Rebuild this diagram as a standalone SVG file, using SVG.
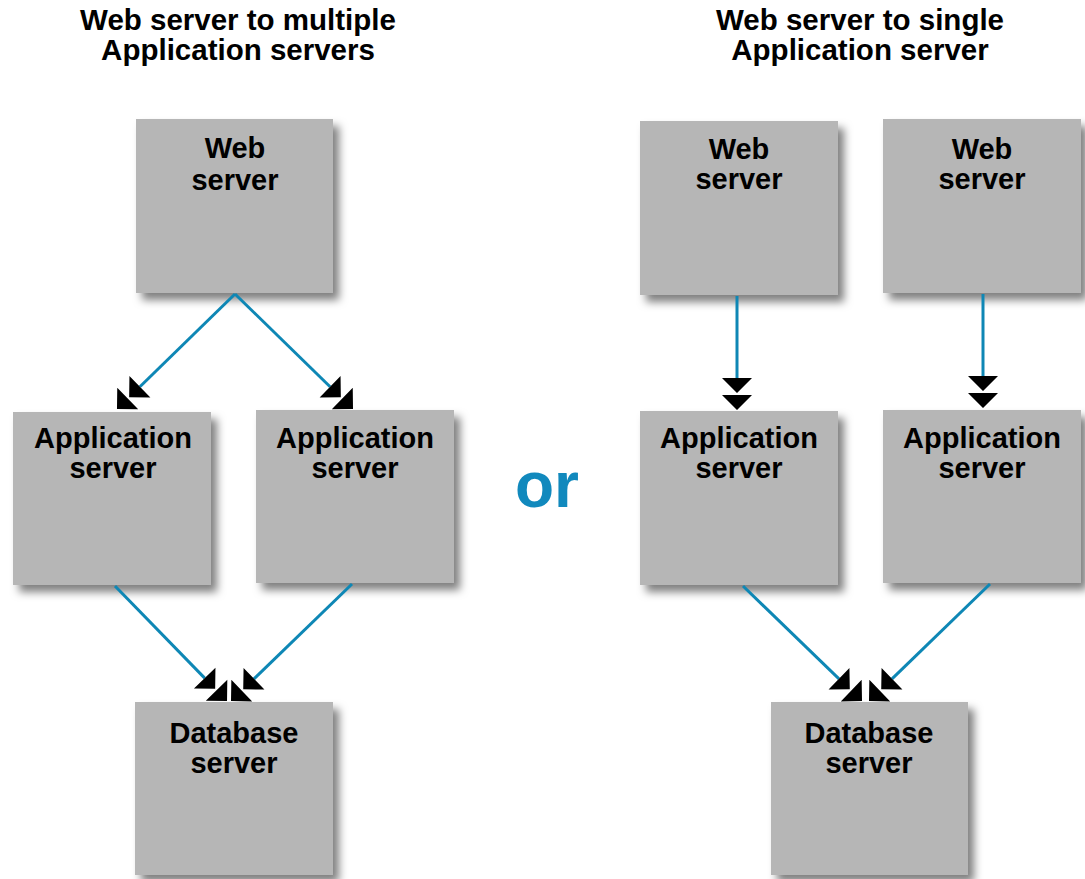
<svg xmlns="http://www.w3.org/2000/svg" width="1085" height="879" viewBox="0 0 1085 879">
  <style>
    .box { fill: #b6b6b6; filter: url(#shadow); }
    .lbl { font-family: "Liberation Sans", Arial, sans-serif; font-weight: bold; font-size: 29px; fill: #000; text-anchor: middle; }
    .title { font-family: "Liberation Sans", Arial, sans-serif; font-weight: bold; font-size: 29.5px; fill: #000; text-anchor: middle; }
    .or { font-family: "Liberation Sans", Arial, sans-serif; font-weight: bold; font-size: 64px; fill: #1189bd; }
    .link { stroke: #0e87b5; stroke-width: 3; fill: none; marker-end: url(#dbl); }
  </style>
  <defs>
    <filter id="shadow" x="-10%" y="-10%" width="130%" height="130%">
      <feDropShadow dx="6" dy="7" stdDeviation="4" flood-color="#000" flood-opacity="0.5"/>
    </filter>
    <!-- double solid arrowhead -->
    <marker id="dbl" markerUnits="userSpaceOnUse" markerWidth="34" markerHeight="32" refX="0" refY="0" viewBox="0 -16 34 32" orient="auto" overflow="visible">
      <path d="M0,-15 L15,0 L0,15 Z M17,-15 L32,0 L17,15 Z" fill="#000"/>
    </marker>
  </defs>

  <rect width="1085" height="879" fill="#fff"/>

  <!-- titles -->
  <text class="title" x="238" y="30">Web server to multiple</text>
  <text class="title" x="238" y="60">Application servers</text>
  <text class="title" x="860" y="30">Web server to single</text>
  <text class="title" x="860" y="60">Application server</text>

  <text class="or" x="515" y="507">or</text>

  <!-- left layout -->
  <g id="web-left">
    <rect class="box" x="136" y="119" width="197" height="174"/>
    <text class="lbl" x="235" y="158">Web</text>
    <text class="lbl" x="235" y="190">server</text>
  </g>
  <g id="app-left-1">
    <rect class="box" x="13" y="412" width="198" height="173"/>
    <text class="lbl" x="113" y="448">Application</text>
    <text class="lbl" x="113" y="478">server</text>
  </g>
  <g id="app-left-2">
    <rect class="box" x="256" y="410" width="198" height="173"/>
    <text class="lbl" x="355" y="448">Application</text>
    <text class="lbl" x="355" y="478">server</text>
  </g>
  <g id="db-left">
    <rect class="box" x="135" y="702" width="198" height="173"/>
    <text class="lbl" x="234" y="743">Database</text>
    <text class="lbl" x="234" y="773">server</text>
  </g>

  <!-- right layout -->
  <g id="web-right-1">
    <rect class="box" x="640" y="121" width="198" height="174"/>
    <text class="lbl" x="739" y="159">Web</text>
    <text class="lbl" x="739" y="189">server</text>
  </g>
  <g id="web-right-2">
    <rect class="box" x="883" y="119" width="198" height="174"/>
    <text class="lbl" x="982" y="159">Web</text>
    <text class="lbl" x="982" y="189">server</text>
  </g>
  <g id="app-right-1">
    <rect class="box" x="640" y="411" width="198" height="174"/>
    <text class="lbl" x="739" y="448">Application</text>
    <text class="lbl" x="739" y="478">server</text>
  </g>
  <g id="app-right-2">
    <rect class="box" x="883" y="410" width="198" height="173"/>
    <text class="lbl" x="982" y="448">Application</text>
    <text class="lbl" x="982" y="478">server</text>
  </g>
  <g id="db-right">
    <rect class="box" x="771" y="702" width="197" height="173"/>
    <text class="lbl" x="869" y="743">Database</text>
    <text class="lbl" x="869" y="773">server</text>
  </g>

  <!-- connectors -->
  <g id="connectors">
    <line class="link" x1="235" y1="294" x2="139.9" y2="386.7"/>
    <line class="link" x1="235" y1="294" x2="330.1" y2="386.7"/>
    <line class="link" x1="115" y1="586" x2="204.7" y2="678.1"/>
    <line class="link" x1="352" y1="584" x2="254" y2="678.8"/>
    <line class="link" x1="737" y1="296" x2="737" y2="378"/>
    <line class="link" x1="983" y1="294" x2="983" y2="376"/>
    <line class="link" x1="743" y1="586" x2="839" y2="678.8"/>
    <line class="link" x1="990" y1="584" x2="892" y2="678.8"/>
  </g>
</svg>
